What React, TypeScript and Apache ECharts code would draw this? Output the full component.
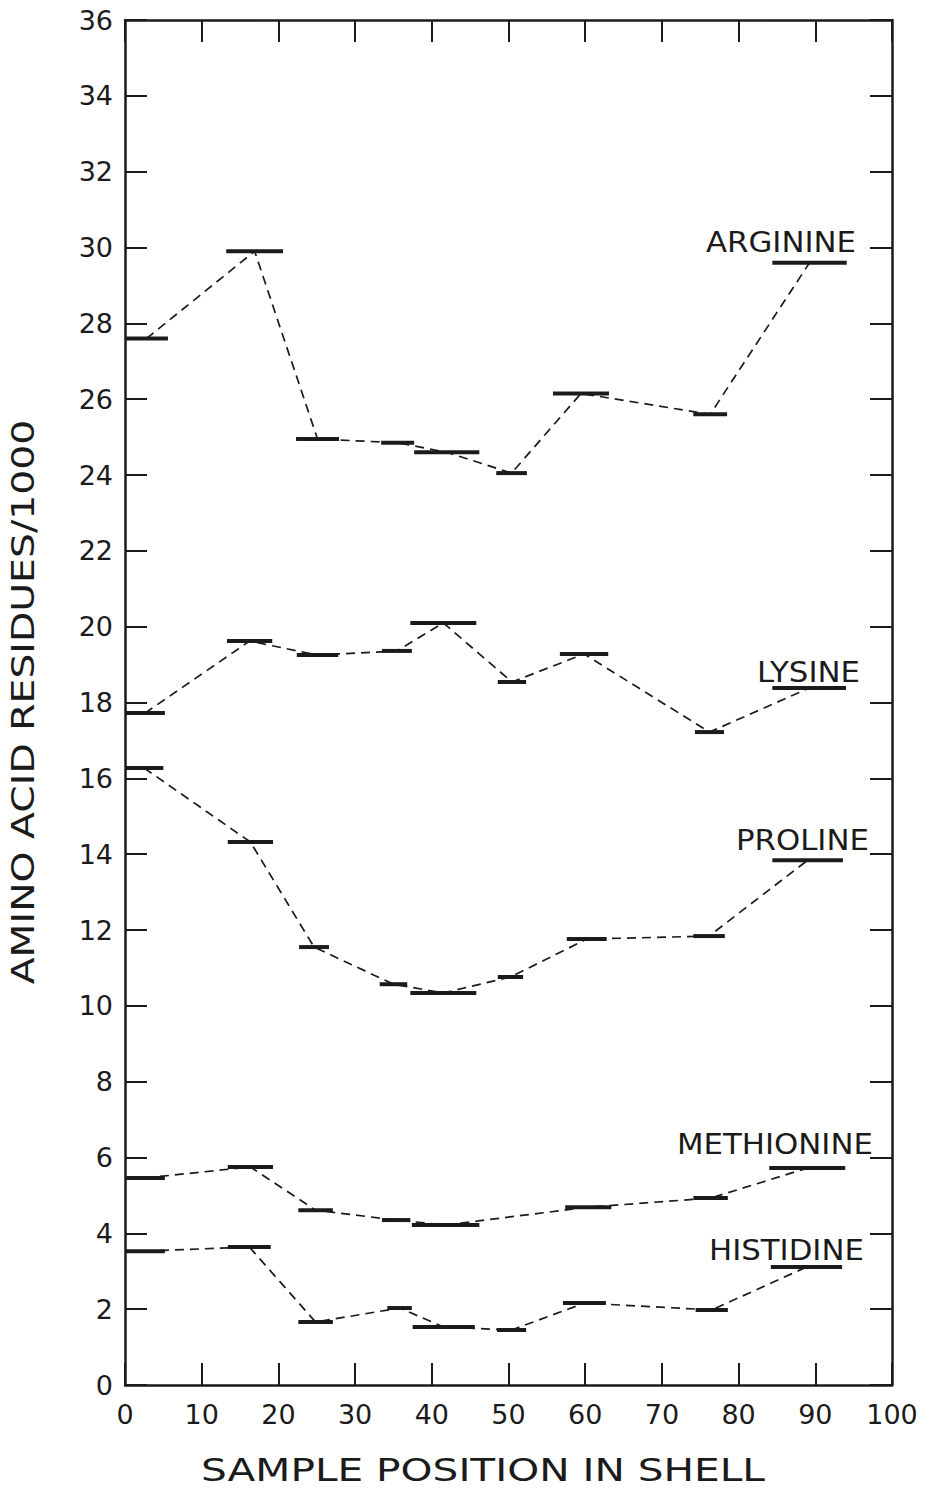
import React, { useEffect, useRef } from "react";
import * as echarts from "echarts";

// Sample positions (start / end of each sampled interval, % of shell) and residues/1000
const ARG_START = [0, 13.2, 22.3, 33.4, 37.7, 48.4, 55.8, 74.1, 84.4];
const ARG_END = [5.6, 20.6, 27.9, 37.7, 46.2, 52.4, 63.1, 78.5, 94.1];
const ARG_VALUE = [27.6, 29.9, 24.95, 24.85, 24.6, 24.05, 26.15, 25.6, 29.6];

const LYS_START = [0, 13.3, 22.4, 33.5, 37.2, 48.6, 56.7, 74.3, 84.4];
const LYS_END = [5.2, 19.2, 27.8, 37.4, 45.8, 52.3, 63.0, 78.1, 94.0];
const LYS_VALUE = [17.72, 19.62, 19.25, 19.36, 20.1, 18.54, 19.28, 17.22, 18.38];

const PRO_START = [0, 13.4, 22.7, 33.2, 37.2, 48.6, 57.6, 74.1, 84.4];
const PRO_END = [5.0, 19.3, 26.6, 36.8, 45.8, 51.9, 62.8, 78.2, 93.6];
const PRO_VALUE = [16.27, 14.32, 11.55, 10.57, 10.34, 10.76, 11.76, 11.84, 13.84];

const MET_START = [0, 13.4, 22.6, 33.5, 37.4, 48.5, 57.4, 74.1, 84.0];
const MET_END = [5.2, 19.3, 27.1, 37.2, 46.2, 52.3, 63.4, 78.6, 93.9];
const MET_VALUE = [5.46, 5.75, 4.61, 4.35, 4.22, null, 4.69, 4.93, 5.72];

const HIS_START = [0, 13.4, 22.6, 34.2, 37.5, 48.5, 57.1, 74.4, 84.2];
const HIS_END = [5.2, 19.0, 27.1, 37.4, 45.6, 52.3, 62.7, 78.6, 93.5];
const HIS_VALUE = [3.53, 3.64, 1.66, 2.03, 1.53, 1.45, 2.16, 1.98, 3.11];

const SERIES_NAMES = ["ARGININE", "LYSINE", "PROLINE", "METHIONINE", "HISTIDINE"];
const X_TICKS = [0, 10, 20, 30, 40, 50, 60, 70, 80, 90, 100];
const Y_MIN = 0;
const Y_MAX = 36;
const Y_STEP = 2;

const X_TITLE = "SAMPLE POSITION IN SHELL";
const Y_TITLE = "AMINO ACID RESIDUES/1000";

const INK = "#1b1b1b";
const FONT = "DejaVu Sans";

const ALL = [
  { name: SERIES_NAMES[0], start: ARG_START, end: ARG_END, value: ARG_VALUE, label: [706, 242] },
  { name: SERIES_NAMES[1], start: LYS_START, end: LYS_END, value: LYS_VALUE, label: [757, 672] },
  { name: SERIES_NAMES[2], start: PRO_START, end: PRO_END, value: PRO_VALUE, label: [736, 840] },
  { name: SERIES_NAMES[3], start: MET_START, end: MET_END, value: MET_VALUE, label: [677, 1144] },
  { name: SERIES_NAMES[4], start: HIS_START, end: HIS_END, value: HIS_VALUE, label: [709, 1250] },
];

export default function App() {
  const ref = useRef<HTMLDivElement>(null);

  useEffect(() => {
    document.body.style.margin = "0";
    if (!ref.current) return;
    const chart = echarts.init(ref.current, null, { renderer: "svg" });

    const series: any[] = [];
    ALL.forEach((s) => {
      const mids: any[] = [];
      const segs: any[] = [];
      s.value.forEach((v, i) => {
        if (v === null) return;
        const m = (s.start[i] + s.end[i]) / 2;
        mids.push([m, v]);
        segs.push([s.start[i], s.end[i], v]);
      });
      series.push({
        name: s.name + " trend",
        type: "line",
        data: mids,
        showSymbol: false,
        symbol: "none",
        connectNulls: true,
        lineStyle: { color: INK, width: 1.7, type: [9, 6] },
        z: 2,
        silent: true,
      });
      series.push({
        name: s.name,
        type: "custom",
        data: segs,
        encode: { x: [0, 1], y: 2 },
        z: 3,
        silent: true,
        renderItem: (params: any, api: any) => {
          const a = api.coord([api.value(0), api.value(2)]);
          const b = api.coord([api.value(1), api.value(2)]);
          return {
            type: "line",
            shape: { x1: a[0], y1: a[1], x2: b[0], y2: b[1] },
            style: { stroke: INK, lineWidth: 4 },
          };
        },
      });
    });

    const axisCommon = {
      axisLine: { show: true, onZero: false, lineStyle: { color: INK, width: 2.5 } },
      axisTick: { show: true, inside: true, length: 22, lineStyle: { color: INK, width: 2 } },
      splitLine: { show: false },
    };

    const graphics: any[] = ALL.map((s) => ({
      type: "text",
      x: s.label[0],
      y: s.label[1],
      scaleX: 1.1,
      style: {
        text: s.name,
        fontFamily: FONT,
        fontSize: 28,
        fill: INK,
        align: "left",
        verticalAlign: "middle",
      },
    }));
    graphics.push({
      type: "text",
      x: 483,
      y: 1470,
      scaleX: 1.27,
      style: {
        text: X_TITLE,
        fontFamily: FONT,
        fontSize: 32,
        fill: INK,
        align: "center",
        verticalAlign: "middle",
      },
    });
    graphics.push({
      type: "text",
      x: 23,
      y: 702,
      rotation: Math.PI / 2,
      scaleX: 1.23,
      style: {
        text: Y_TITLE,
        fontFamily: FONT,
        fontSize: 32,
        fill: INK,
        align: "center",
        verticalAlign: "middle",
      },
    });

    chart.setOption({
      animation: false,
      backgroundColor: "#ffffff",
      grid: { left: 125, top: 20, right: 38, bottom: 104, containLabel: false },
      xAxis: [
        {
          type: "value",
          position: "bottom",
          min: X_TICKS[0],
          max: X_TICKS[X_TICKS.length - 1],
          interval: X_TICKS[1] - X_TICKS[0],
          ...axisCommon,
          axisLabel: { show: true, color: INK, fontSize: 27, fontFamily: FONT, margin: 16 },
        },
        {
          type: "value",
          position: "top",
          min: X_TICKS[0],
          max: X_TICKS[X_TICKS.length - 1],
          interval: X_TICKS[1] - X_TICKS[0],
          ...axisCommon,
          axisLabel: { show: false },
        },
      ],
      yAxis: [
        {
          type: "value",
          position: "left",
          min: Y_MIN,
          max: Y_MAX,
          interval: Y_STEP,
          ...axisCommon,
          axisLabel: { show: true, color: INK, fontSize: 27, fontFamily: FONT, margin: 12 },
        },
        {
          type: "value",
          position: "right",
          min: Y_MIN,
          max: Y_MAX,
          interval: Y_STEP,
          ...axisCommon,
          axisLabel: { show: false },
        },
      ],
      graphic: graphics,
      series,
    });

    return () => {
      chart.dispose();
    };
  }, []);

  return <div ref={ref} style={{ width: 930, height: 1489 }} />;
}
